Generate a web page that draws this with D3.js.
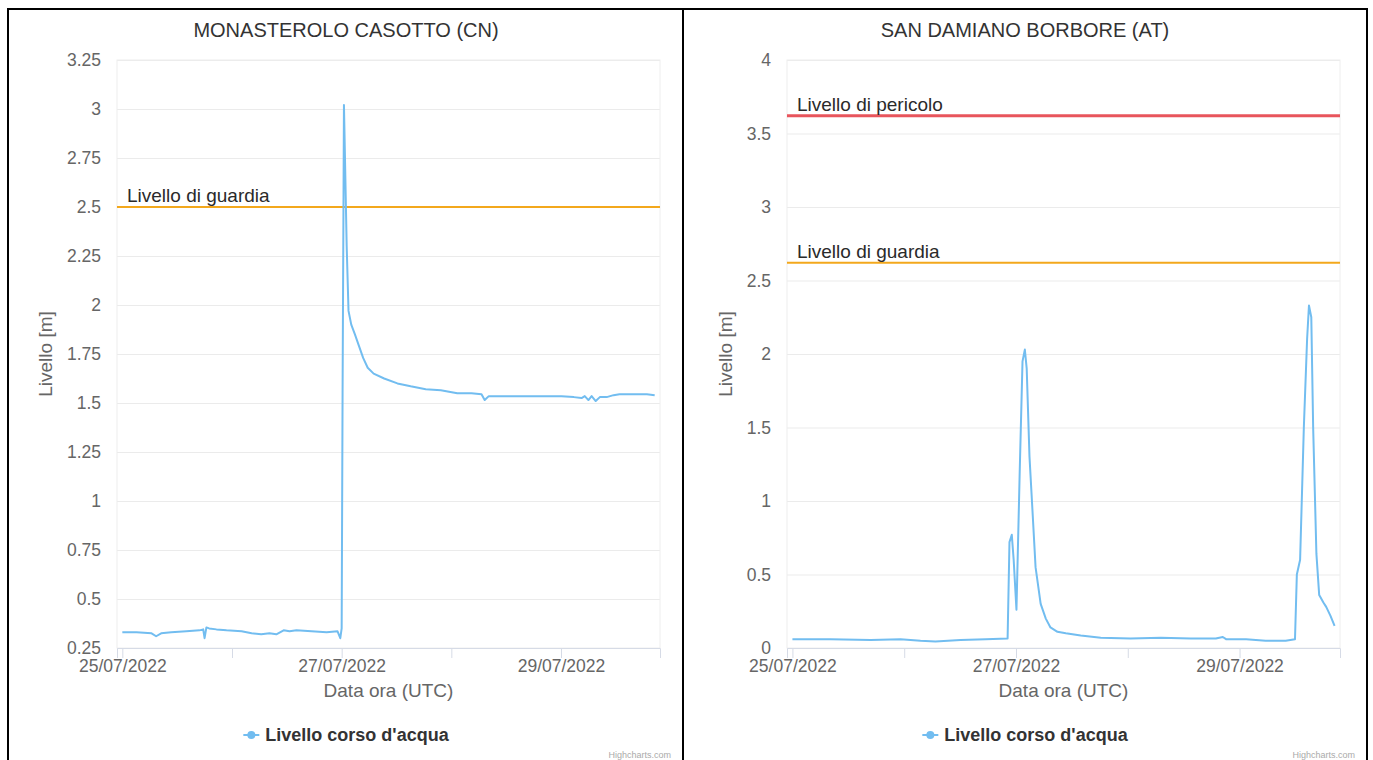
<!DOCTYPE html>
<html>
<head>
<meta charset="utf-8">
<script src="https://cdn.jsdelivr.net/npm/d3@7"></script>
<style>
  html, body { margin: 0; padding: 0; background: #ffffff; }
  svg { display: block; font-family: "Liberation Sans", Arial, Helvetica, sans-serif; }
</style>
</head>
<body>
<svg id="chart" width="1373" height="760"></svg>
<script>
// ---- Shared labels ----
const seriesStart = "2022-07-25T00:00:00Z";
const seriesName = "Livello corso d'acqua";
const xAxisTitle = "Data ora (UTC)";
const yAxisTitle = "Livello [m]";
const creditText = "Highcharts.com";
const tickDays = ["2022-07-25", "2022-07-26", "2022-07-27", "2022-07-28", "2022-07-29"];
const labelDays = ["2022-07-25", "2022-07-27", "2022-07-29"];

// ---- Monasterolo Casotto (CN) ----
const monasteroloTitle = "MONASTEROLO CASOTTO (CN)";
const monasteroloHours = [
  0, 3.1, 6.4, 7.4, 8.5, 10.7, 14, 16.9, 17.7, 18, 18.4, 19, 20.6, 22.8,
  26.1, 28.3, 30.4, 32.2, 33.7, 35.3, 36.6, 38.1, 41.4, 44.7, 47.1, 47.7,
  48, 48.2, 48.5, 49.1, 49.5, 50.1, 50.9, 51.8, 52.7, 53.7, 55, 57.3, 60.2,
  63.1, 66.4, 69.7, 73.3, 76.4, 78.6, 79.3, 80.2, 83, 87.4, 91.8, 96.1,
  98.8, 100.5, 101.2, 102, 102.7, 103.6, 104.5, 106, 107.5, 108.8, 111.5,
  114.8, 116.5
];
const monasteroloLevels = [
  0.33, 0.33, 0.325, 0.31, 0.325, 0.33, 0.335, 0.34, 0.345, 0.30, 0.355, 0.35, 0.345, 0.34,
  0.335, 0.325, 0.32, 0.325, 0.32, 0.34, 0.335, 0.34, 0.335, 0.33, 0.335, 0.30,
  0.35, 1.55, 3.02, 2.3, 1.97, 1.9, 1.85, 1.79, 1.73, 1.68, 1.65, 1.625, 1.60,
  1.585, 1.57, 1.565, 1.55, 1.55, 1.545, 1.515, 1.535, 1.535, 1.535, 1.535, 1.535,
  1.53, 1.525, 1.535, 1.515, 1.535, 1.51, 1.53, 1.53, 1.54, 1.545, 1.545,
  1.545, 1.54
];
const monasteroloYTicks = [0.25, 0.5, 0.75, 1, 1.25, 1.5, 1.75, 2, 2.25, 2.5, 2.75, 3, 3.25];
const monasteroloThresholdNames = ["Livello di guardia"];
const monasteroloThresholdLevels = [2.5];

// ---- San Damiano Borbore (AT) ----
const sanDamianoTitle = "SAN DAMIANO BORBORE (AT)";
const sanDamianoHours = [
  0, 8.2, 16.8, 23.2, 27.5, 30.7, 36.1, 41.5, 46.2, 46.6, 47.1, 47.5, 48.1,
  48.8, 49.4, 49.9, 50.3, 50.9, 51.6, 52.2, 53.3, 54.4, 55.4, 56.9, 58.7,
  61.9, 66.2, 72.6, 79.1, 85.5, 90.9, 92.4, 93.1, 97.4, 101.6, 105.9, 107.9,
  108.3, 109, 109.8, 110.5, 110.9, 111.4, 111.8, 112.5, 113.1, 114, 114.6,
  115.5, 116.4
];
const sanDamianoLevels = [
  0.06, 0.06, 0.055, 0.06, 0.05, 0.045, 0.055, 0.06, 0.065, 0.72, 0.77, 0.6, 0.26,
  1.2, 1.95, 2.03, 1.9, 1.3, 0.9, 0.55, 0.3, 0.2, 0.14, 0.11, 0.1,
  0.085, 0.07, 0.065, 0.07, 0.065, 0.065, 0.075, 0.06, 0.06, 0.05, 0.05, 0.06,
  0.5, 0.6, 1.5, 2.1, 2.33, 2.25, 1.5, 0.64, 0.36, 0.31, 0.28,
  0.22, 0.15
];
const sanDamianoYTicks = [0, 0.5, 1, 1.5, 2, 2.5, 3, 3.5, 4];
const sanDamianoThresholdNames = ["Livello di pericolo", "Livello di guardia"];
const sanDamianoThresholdLevels = [3.62, 2.62];

// ---- Styling ----
const seriesColor = "#72bdf0";
const thresholdColors = {
  "Livello di guardia": "#f3a81c",
  "Livello di pericolo": "#e8555c"
};
const gridColor = "#ebebeb";
const axisLineColor = "#d6dbe6";
const labelColor = "#666666";
const titleColor = "#333333";
const fontStack = "Liberation Sans, Arial, sans-serif";

const svg = d3.select("#chart");
const start = new Date(seriesStart);
const toDate = h => new Date(start.getTime() + h * 3600 * 1000);
const fmtDate = d3.utcFormat("%d/%m/%Y");
const fmtKey = d3.utcFormat("%Y-%m-%d");

// Table-like frame around the two charts
const frame = svg.append("g").attr("stroke", "#000").attr("stroke-width", 2).attr("fill", "none");
frame.append("line").attr("x1", 8).attr("x2", 8).attr("y1", 8).attr("y2", 760);
frame.append("line").attr("x1", 7).attr("x2", 1368).attr("y1", 9).attr("y2", 9);
frame.append("line").attr("x1", 683).attr("x2", 683).attr("y1", 8).attr("y2", 760);
frame.append("line").attr("x1", 1367).attr("x2", 1367).attr("y1", 8).attr("y2", 760);

function drawPanel(cfg) {
  const g = svg.append("g");
  const data = cfg.hours.map((h, i) => ({ t: toDate(h), v: cfg.levels[i] }));
  const t0 = data[0].t.getTime();
  const t1 = data[data.length - 1].t.getTime();
  const pad = (t1 - t0) * 0.01;

  const x = d3.scaleUtc()
    .domain([new Date(t0 - pad), new Date(t1 + pad)])
    .range([cfg.left, cfg.right]);
  const y = d3.scaleLinear()
    .domain(d3.extent(cfg.yTicks))
    .range([cfg.bottom, cfg.top]);

  // Title
  g.append("text")
    .attr("x", cfg.center).attr("y", 37)
    .attr("text-anchor", "middle")
    .attr("font-size", 20).attr("fill", titleColor)
    .text(cfg.title);

  // Horizontal grid + y labels
  const yAxis = d3.axisLeft(y)
    .tickValues(cfg.yTicks)
    .tickSize(-(cfg.right - cfg.left))
    .tickPadding(16)
    .tickFormat(d => String(d));
  const yg = g.append("g").attr("transform", `translate(${cfg.left},0)`).call(yAxis);
  yg.select(".domain").remove();
  yg.selectAll(".tick line").attr("stroke", gridColor).attr("stroke-width", 1);
  yg.selectAll(".tick text")
    .attr("fill", labelColor).attr("font-size", 17.5)
    .attr("font-family", fontStack);

  // Plot border
  g.append("rect")
    .attr("x", cfg.left).attr("y", cfg.top)
    .attr("width", cfg.right - cfg.left).attr("height", cfg.bottom - cfg.top)
    .attr("fill", "none").attr("stroke", "#eeeeee").attr("stroke-width", 1);

  // X axis: daily ticks, labels every second day
  const labelSet = new Set(labelDays);
  const xAxis = d3.axisBottom(x)
    .tickValues(tickDays.map(d => new Date(d + "T00:00:00Z")))
    .tickSize(10)
    .tickPadding(2)
    .tickFormat(d => labelSet.has(fmtKey(d)) ? fmtDate(d) : "");
  const xg = g.append("g").attr("transform", `translate(0,${cfg.bottom})`).call(xAxis);
  xg.select(".domain").attr("stroke", axisLineColor);
  xg.selectAll(".tick line").attr("stroke", axisLineColor);
  xg.selectAll(".tick text")
    .attr("fill", labelColor).attr("font-size", 17.5)
    .attr("font-family", fontStack);

  // Axis titles
  g.append("text")
    .attr("x", (cfg.left + cfg.right) / 2).attr("y", 697)
    .attr("text-anchor", "middle")
    .attr("font-size", 19).attr("fill", labelColor)
    .text(xAxisTitle);
  g.append("text")
    .attr("transform", `translate(${cfg.yTitleX},${(cfg.top + cfg.bottom) / 2}) rotate(-90)`)
    .attr("text-anchor", "middle")
    .attr("font-size", 19).attr("fill", labelColor)
    .text(yAxisTitle);

  // Threshold lines with labels
  cfg.thresholdLevels.forEach((lv, i) => {
    const name = cfg.thresholdNames[i];
    g.append("line")
      .attr("x1", cfg.left).attr("x2", cfg.right)
      .attr("y1", y(lv)).attr("y2", y(lv))
      .attr("stroke", thresholdColors[name]).attr("stroke-width", name === "Livello di pericolo" ? 3 : 2);
    g.append("text")
      .attr("x", cfg.left + 10).attr("y", y(lv) - 5)
      .attr("font-size", 19).attr("fill", "#2a2a2a")
      .text(name);
  });

  // Water level series
  const line = d3.line().x(d => x(d.t)).y(d => y(d.v));
  g.append("path")
    .datum(data)
    .attr("fill", "none")
    .attr("stroke", seriesColor)
    .attr("stroke-width", 2)
    .attr("stroke-linejoin", "round")
    .attr("d", line);

  // Legend
  const legend = g.append("g").attr("transform", `translate(${cfg.center},735)`);
  const lt = legend.append("text")
    .attr("x", 0).attr("y", 6)
    .attr("font-size", 18).attr("font-weight", "bold").attr("fill", titleColor)
    .text(seriesName);
  const tw = lt.node().getComputedTextLength();
  const lx = -(tw + 22) / 2;
  lt.attr("x", lx + 22);
  legend.append("line")
    .attr("x1", lx).attr("x2", lx + 16).attr("y1", 0).attr("y2", 0)
    .attr("stroke", seriesColor).attr("stroke-width", 2);
  legend.append("circle")
    .attr("cx", lx + 8).attr("cy", 0).attr("r", 4)
    .attr("fill", seriesColor);

  // Credits
  g.append("text")
    .attr("x", cfg.panelRight - 12).attr("y", 758)
    .attr("text-anchor", "end")
    .attr("font-size", 9).attr("fill", "#aaaaaa")
    .text(creditText);
}

drawPanel({
  title: monasteroloTitle,
  hours: monasteroloHours,
  levels: monasteroloLevels,
  yTicks: monasteroloYTicks,
  thresholdNames: monasteroloThresholdNames,
  thresholdLevels: monasteroloThresholdLevels,
  left: 117, right: 660, top: 60, bottom: 648,
  center: 346, yTitleX: 52, panelRight: 683
});

drawPanel({
  title: sanDamianoTitle,
  hours: sanDamianoHours,
  levels: sanDamianoLevels,
  yTicks: sanDamianoYTicks,
  thresholdNames: sanDamianoThresholdNames,
  thresholdLevels: sanDamianoThresholdLevels,
  left: 787, right: 1340, top: 60, bottom: 648,
  center: 1025, yTitleX: 732, panelRight: 1367
});
</script>
</body>
</html>
